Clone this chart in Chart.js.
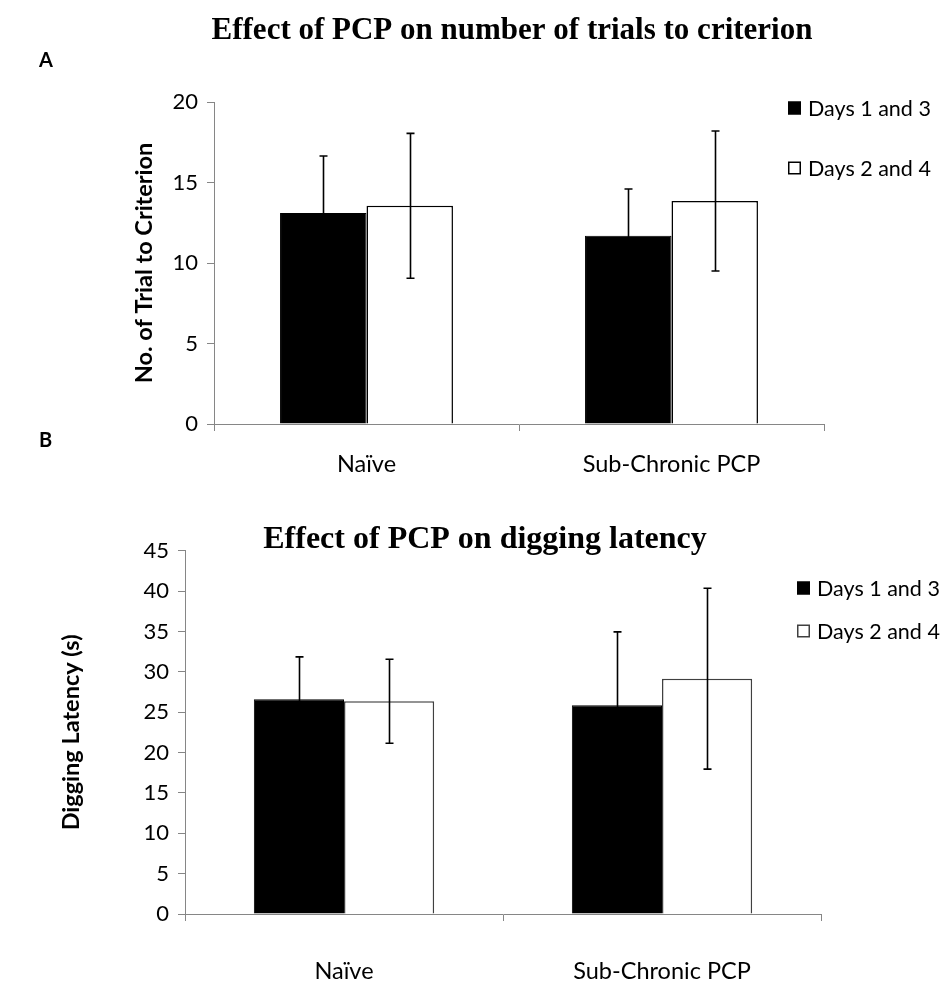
<!DOCTYPE html>
<html><head><meta charset="utf-8">
<script src="https://cdn.jsdelivr.net/npm/chart.js@4.4.0/dist/chart.umd.min.js"></script>
<style>
html,body{margin:0;padding:0;background:#fff;width:941px;height:990px;overflow:hidden}
.wrap{position:absolute;left:0;width:941px;height:495px}
#wa{top:0}
#wb{top:495px}
canvas{display:block}
.panel{position:absolute;font-family:Lato,"Open Sans",sans-serif;font-weight:bold;font-size:20px;color:#000;line-height:24px}
</style></head><body>
<div class="wrap" id="wa"><canvas id="ca" width="941" height="495" style="width:941px;height:495px"></canvas></div>
<div class="wrap" id="wb"><canvas id="cb" width="941" height="495" style="width:941px;height:495px"></canvas></div>
<div class="panel" style="left:39px;top:47px">A</div>
<div class="panel" style="left:39px;top:427px">B</div>
<script>
// ---- data ----
const categories = ['Naïve', 'Sub-Chronic PCP'];
const seriesNames = ['Days 1 and 3', 'Days 2 and 4'];
const trialsDays13 = [13.1, 11.7];
const trialsDays24 = [13.55, 13.85];
const trialsErr13 = [3.55, 2.9];
const trialsErr24 = [4.5, 4.35];
const latencyDays13 = [26.6, 25.85];
const latencyDays24 = [26.35, 29.15];
const latencyErr13 = [5.25, 9.1];
const latencyErr24 = [5.2, 11.2];
const trialsTicks = [0, 5, 10, 15, 20];
const latencyTicks = [0, 5, 10, 15, 20, 25, 30, 35, 40, 45];
const titleA = 'Effect of PCP on number of trials to criterion';
const titleB = 'Effect of PCP on digging latency';
const yTitleA = 'No. of Trial to Criterion';
const yTitleB = 'Digging Latency (s)';

const SANS = 'Lato, "Open Sans", sans-serif';
const SERIF = '"Liberation Serif", "Times New Roman", serif';
const AXIS = '#868686';

const errorBarsPlugin = {
  id: 'errorBars',
  afterDatasetsDraw(chart) {
    const ctx = chart.ctx, y = chart.scales.y;
    chart.data.datasets.forEach((ds, i) => {
      const meta = chart.getDatasetMeta(i);
      meta.data.forEach((bar, j) => {
        const v = ds.data[j], e = ds.errors[j];
        const yt = y.getPixelForValue(v + e), yb = y.getPixelForValue(v - e);
        const x = Math.round(bar.x) + 0.5;
        ctx.save();
        ctx.strokeStyle = '#000'; ctx.lineWidth = 1.6;
        ctx.beginPath();
        ctx.moveTo(x, yt); ctx.lineTo(x, yb);
        ctx.moveTo(x - 4, yt); ctx.lineTo(x + 4, yt);
        ctx.moveTo(x - 4, yb); ctx.lineTo(x + 4, yb);
        ctx.stroke();
        ctx.restore();
      });
    });
  }
};

const customLegendPlugin = {
  id: 'customLegend',
  afterDraw(chart, args, o) {
    if (!o || !o.items) return;
    const ctx = chart.ctx;
    ctx.save();
    ctx.font = o.font;
    ctx.textBaseline = 'middle';
    chart.data.datasets.forEach((ds, i) => {
      const yc = o.items[i];
      const s = o.box;
      ctx.fillStyle = ds.backgroundColor;
      ctx.fillRect(o.x, yc - s / 2, s, s);
      ctx.strokeStyle = ds.borderColor; ctx.lineWidth = 1.5;
      ctx.strokeRect(o.x + 0.75, yc - s / 2 + 0.75, s - 1.5, s - 1.5);
      ctx.fillStyle = '#000';
      ctx.fillText(ds.label, o.textX, yc + 1);
    });
    ctx.restore();
  }
};

const chartTitlePlugin = {
  id: 'chartTitle',
  afterDraw(chart, args, o) {
    if (!o || !o.text) return;
    const ctx = chart.ctx;
    ctx.save();
    ctx.font = o.font;
    ctx.fillStyle = '#000';
    ctx.textAlign = 'center';
    ctx.textBaseline = 'middle';
    ctx.fillText(o.text, o.cx, o.cy);
    ctx.restore();
  }
};

function makeChart(id, cfg) {
  return new Chart(document.getElementById(id), {
    type: 'bar',
    data: {
      labels: categories,
      datasets: [
        { label: seriesNames[0], data: cfg.d1, errors: cfg.e1, backgroundColor: '#000000', borderColor: '#000000', borderWidth: 1 },
        { label: seriesNames[1], data: cfg.d2, errors: cfg.e2, backgroundColor: '#ffffff', borderColor: cfg.whiteBorder, borderWidth: 1.5 }
      ]
    },
    plugins: [errorBarsPlugin, customLegendPlugin, chartTitlePlugin],
    options: {
      responsive: false,
      animation: false,
      layout: { padding: { top: cfg.top, right: 941 - cfg.right, bottom: 0, left: 0 } },
      datasets: { bar: { categoryPercentage: 0.567, barPercentage: 1.0 } },
      plugins: {
        legend: { display: false },
        tooltip: { enabled: false },
        title: { display: false },
        chartTitle: cfg.titleOpts,
        customLegend: cfg.legend
      },
      scales: {
        x: {
          afterFit: s => { s.height = 495 - cfg.bottom; },
          grid: { offset: true, drawOnChartArea: false, drawTicks: true, tickLength: 7, color: AXIS, lineWidth: 1 },
          border: { color: AXIS, width: 1 },
          ticks: { color: '#000', font: { family: SANS, size: 23.5 }, padding: cfg.xPad, maxRotation: 0 }
        },
        y: {
          min: 0, max: cfg.max,
          afterFit: s => { s.width = cfg.left; },
          afterBuildTicks: s => { s.ticks = cfg.ticks.map(v => ({ value: v })); },
          grid: { drawOnChartArea: false, drawTicks: true, tickLength: 7, color: AXIS, lineWidth: 1 },
          border: { color: AXIS, width: 1 },
          ticks: { color: '#000', font: { family: SANS, size: 22 }, padding: 9 },
          title: {
            display: true, text: cfg.yTitle, color: '#000',
            font: { family: SANS, size: 23.5, weight: 'bold', lineHeight: 1.2 },
            padding: { top: cfg.yTitlePad, bottom: 0 }
          }
        }
      }
    }
  });
}

makeChart('ca', {
  d1: trialsDays13, d2: trialsDays24, e1: trialsErr13, e2: trialsErr24,
  whiteBorder: '#000000', yTitle: yTitleA, ticks: trialsTicks, max: 20,
  top: 102, left: 214, right: 824, bottom: 424, xPad: 19,
  yTitlePad: 130,
  titleOpts: { text: titleA, cx: 512, cy: 31, font: 'bold 31px ' + SERIF },
  legend: { x: 788, textX: 808, box: 13, items: [108, 168], font: '21.5px ' + SANS }
});

makeChart('cb', {
  d1: latencyDays13, d2: latencyDays24, e1: latencyErr13, e2: latencyErr24,
  whiteBorder: '#404040', yTitle: yTitleB, ticks: latencyTicks, max: 45,
  top: 55.7, left: 185, right: 821, bottom: 419, xPad: 36,
  yTitlePad: 57,
  titleOpts: { text: titleB, cx: 485, cy: 45, font: 'bold 32px ' + SERIF },
  legend: { x: 797, textX: 817, box: 13, items: [93, 136], font: '21.5px ' + SANS }
});
</script>
</body></html>
